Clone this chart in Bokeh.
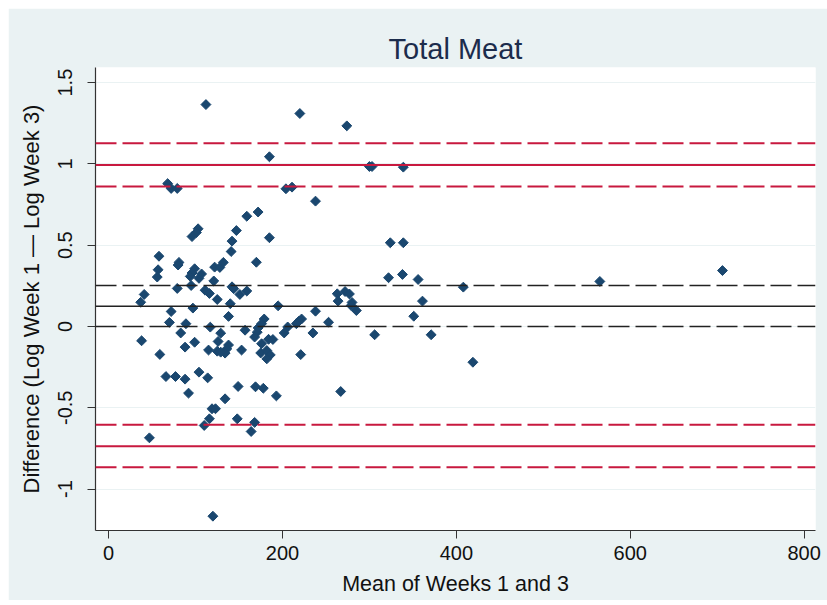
from bokeh.plotting import figure
from bokeh.models import FixedTicker, Span, ColumnDataSource
from bokeh.embed import file_html
from bokeh.resources import INLINE
import math

# ---- data ----
mean_wk13 = [112, 220, 274, 185, 68, 72, 79, 204, 211, 238, 300, 303, 339,
             172, 159, 147, 142, 141, 185, 103, 101, 96, 58, 81, 80, 170,
             122, 128, 132, 57, 56, 99, 96, 94, 104, 121, 79, 95, 111, 142,
             159, 272, 324, 339, 322, 338, 356, 408, 151, 195, 263, 277,
             264, 280, 279, 285, 361, 238, 351, 179, 176, 172, 171, 168,
             157, 222, 219, 216, 206, 202, 253, 235, 306, 371, 176, 184,
             189, 153, 175, 182, 186, 182, 221, 419, 149, 169, 178, 193,
             267, 107, 144, 116, 125, 140, 97, 138, 117, 129, 126, 138,
             136, 134, 115, 125, 129, 99, 104, 114, 134, 41, 37, 72, 70,
             89, 83, 38, 88, 59, 66, 77, 88, 92, 119, 123, 116, 110, 148,
             168, 164, 47, 120, 565, 706]
diff_log = [1.365, 1.31, 1.234, 1.044, 0.879, 0.849, 0.849, 0.847, 0.857,
            0.771, 0.984, 0.984, 0.98, 0.704, 0.678, 0.590, 0.525, 0.461,
            0.546, 0.601, 0.578, 0.553, 0.432, 0.394, 0.378, 0.395, 0.365,
            0.363, 0.394, 0.349, 0.304, 0.355, 0.329, 0.308, 0.296, 0.280,
            0.234, 0.252, 0.223, 0.244, 0.218, 0.215, 0.515, 0.515, 0.300,
            0.320, 0.289, 0.242, 0.197, 0.127, 0.201, 0.200, 0.156, 0.148,
            0.129, 0.098, 0.156, 0.094, 0.063, 0.046, 0.017, -0.009, -0.035,
            -0.065, -0.023, 0.046, 0.033, 0.017, -0.003, -0.040, 0.026,
            -0.040, -0.051, -0.051, -0.106, -0.079, -0.080, -0.145, -0.163,
            -0.148, -0.175, -0.199, -0.173, -0.220, -0.369, -0.371, -0.380,
            -0.427, -0.400, 0.323, 0.232, 0.203, 0.166, 0.140, 0.113, 0.062,
            -0.004, -0.041, -0.092, -0.114, -0.138, -0.164, -0.145, -0.152,
            -0.158, -0.097, -0.281, -0.316, -0.445, 0.197, 0.149, 0.092,
            0.025, 0.017, -0.040, -0.088, -0.127, -0.172, -0.308, -0.308,
            -0.324, -0.410, -0.506, -0.506, -0.568, -0.609, -0.568, -0.590,
            -0.646, -0.685, -1.167, 0.277, 0.344]

mean_diff = 0.125
mean_ci = [0.0, 0.252]
loa = [0.994, -0.736]
loa_ci = [1.127, 0.861, -0.605, -0.866]

x_ticks = [0, 200, 400, 600, 800]
y_ticks = [-1, -0.5, 0, 0.5, 1, 1.5]
y_tick_labels = ["-1", "-0.5", "0", "0.5", "1", "1.5"]

title_text = "Total Meat"
x_title = "Mean of Weeks 1 and 3"
y_title = "Difference (Log Week 1 \u2014 Log Week 3)"

# ---- styling ----
BG = "#EAF2F3"
NAVY = "#1A476F"
RED = "#C8193F"
FONT = "Liberation Sans"

p = figure(width=819, height=592, x_range=(-15, 813), y_range=(-1.255, 1.593),
           output_backend="svg", toolbar_location=None,
           min_border_left=87, min_border_right=12, min_border_top=59,
           min_border_bottom=70)
p.margin = (8, 0, 0, 8)
p.background_fill_color = "white"
p.border_fill_color = BG
p.outline_line_color = None

p.title.text = title_text
p.title.align = "center"
p.title.text_font = FONT
p.title.text_font_size = "29px"
p.title.text_font_style = "normal"
p.title.text_color = "#1C2C4C"
p.title.standoff = 6

for ax in (p.xaxis[0], p.yaxis[0]):
    ax.axis_line_color = "#333333"
    ax.axis_line_width = 1.2
    ax.major_tick_line_color = "#333333"
    ax.major_tick_in = 0
    ax.major_tick_out = 8
    ax.minor_tick_line_color = None
    ax.major_label_text_font = FONT
    ax.major_label_text_font_size = "20px"
    ax.major_label_text_color = "#111111"
    ax.axis_label_text_font = FONT
    ax.axis_label_text_font_style = "normal"
    ax.axis_label_text_color = "#111111"

p.xaxis.axis_label_text_font_size = "21.5px"
p.yaxis.axis_label_text_font_size = "22px"
p.xaxis.ticker = FixedTicker(ticks=x_ticks)
p.yaxis.ticker = FixedTicker(ticks=y_ticks)
p.yaxis.major_label_overrides = {float(t): s for t, s in zip(y_ticks, y_tick_labels)}
p.yaxis.major_label_orientation = "vertical"
p.xaxis.axis_label = x_title
p.yaxis.axis_label = y_title
p.xaxis.major_label_standoff = 7
p.xaxis.axis_label_standoff = 9
p.yaxis.major_label_standoff = 15
p.yaxis.axis_label_standoff = 12

p.xgrid.visible = False
p.ygrid.ticker = FixedTicker(ticks=y_ticks)
p.ygrid.grid_line_color = BG
p.ygrid.grid_line_width = 1.2

for v in loa:
    p.add_layout(Span(location=v, dimension="width", line_color=RED, line_width=2))
for v in loa_ci:
    p.add_layout(Span(location=v, dimension="width", line_color=RED, line_width=2,
                      line_dash="21 6"))
p.add_layout(Span(location=mean_diff, dimension="width", line_color="#222222",
                  line_width=1.5))
for v in mean_ci:
    p.add_layout(Span(location=v, dimension="width", line_color="#222222",
                      line_width=1.5, line_dash="21 6"))

src = ColumnDataSource(data=dict(x=mean_wk13, y=diff_log))
p.scatter("x", "y", source=src, marker="square", size=7, angle=math.pi / 4,
          fill_color=NAVY, line_color=NAVY, line_width=1)

open("out.html", "w").write(file_html(p, INLINE))
